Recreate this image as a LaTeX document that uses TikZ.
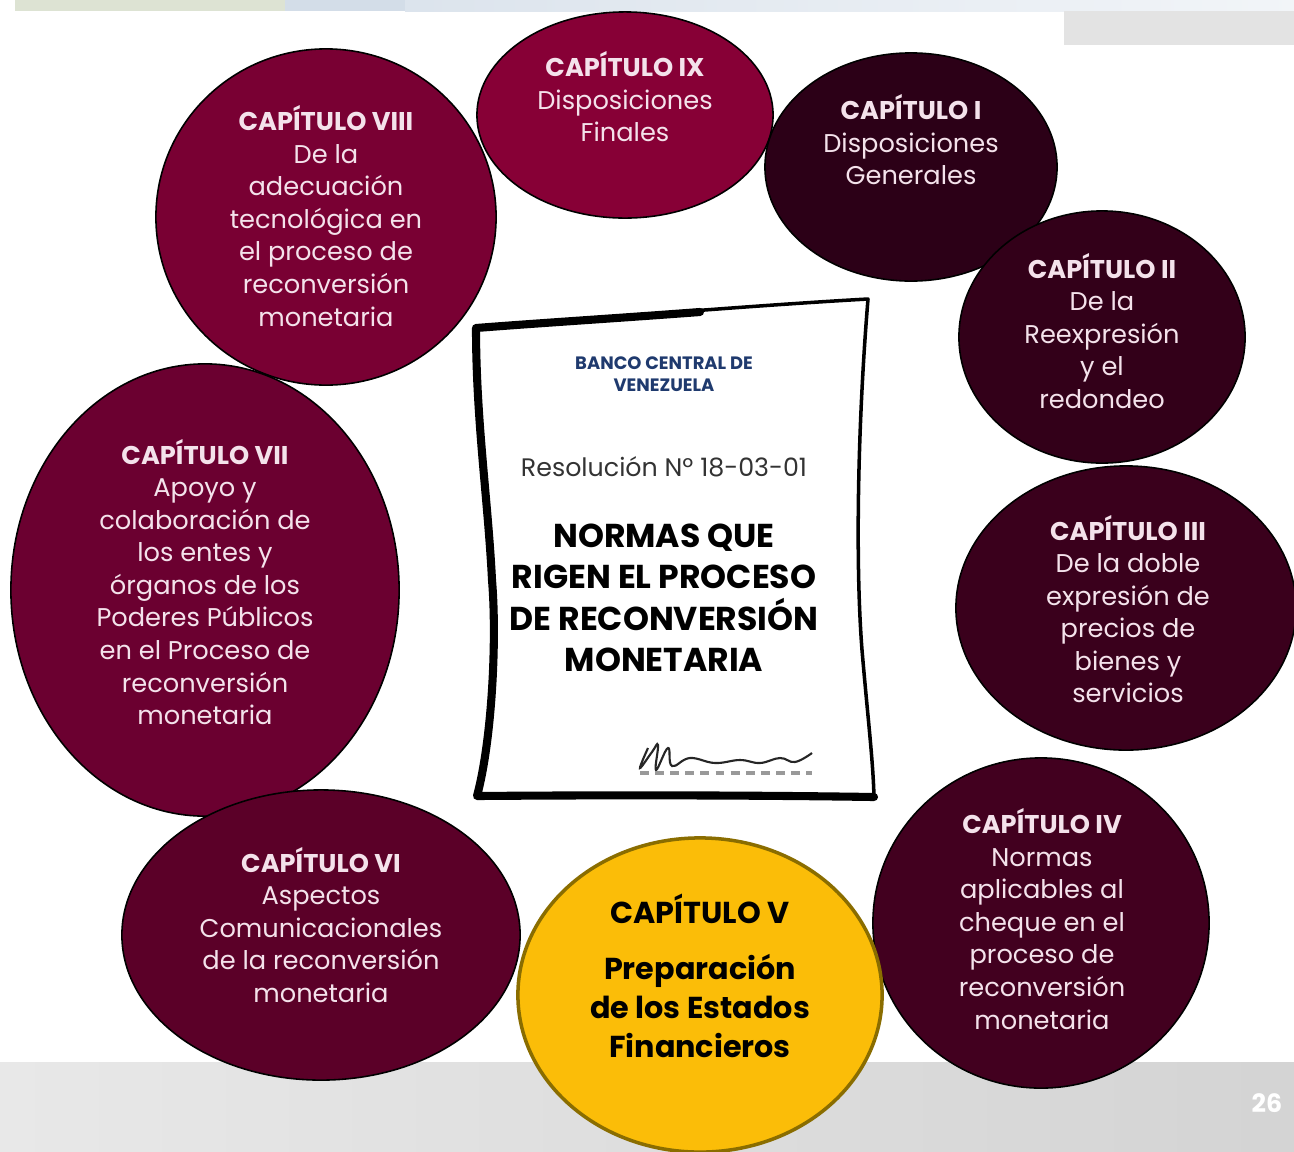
\documentclass[tikz,border=0pt]{standalone}
\usepackage{fontspec}
\setmainfont{Poppins}
\usetikzlibrary{shapes.geometric}

\definecolor{vinoVII}{HTML}{6B0030}
\definecolor{vinoVIII}{HTML}{790033}
\definecolor{vinoIX}{HTML}{870036}
\definecolor{vinoI}{HTML}{2C0017}
\definecolor{vinoII}{HTML}{330019}
\definecolor{vinoIII}{HTML}{3A001C}
\definecolor{vinoIV}{HTML}{42001F}
\definecolor{vinoVI}{HTML}{5B0028}
\definecolor{oro}{HTML}{FBBD08}
\definecolor{orobase}{HTML}{8A6D00}
\definecolor{rosado}{HTML}{F4E2EB}
\definecolor{azulbcv}{HTML}{1F3A6E}
\definecolor{franjaverde}{HTML}{DDE3D3}
\definecolor{franjaazul}{HTML}{D3DDE8}

\tikzset{
  capitulo/.style={ellipse, draw=black, line width=0.45pt, inner sep=0pt, outer sep=0pt},
  textocap/.style={align=center, text=rosado, inner sep=0pt, font=\fontsize{7.3}{9.25}\selectfont},
}

\begin{document}
\begin{tikzpicture}[x=0.01cm, y=-0.01cm]
\useasboundingbox (0,0) rectangle (1294,1151);

\fill [left color=black!9, right color=black!17] (0,1062) rectangle (1294,1151);
\fill [franjaverde] (15,0) rectangle (285,11);
\fill [franjaazul] (285,0) rectangle (405,11);
\fill [left color=franjaazul!80, right color=franjaazul!30] (405,0) rectangle (1294,11);
\fill [black!11] (1064,11) rectangle (1294,45);

\coordinate (C7) at (205,590);
\coordinate (C8) at (326,217);
\coordinate (C9) at (625,115);
\coordinate (C1) at (911,167);
\coordinate (C2) at (1102,337);
\coordinate (C3) at (1126,608);
\coordinate (C4) at (1041,923);
\coordinate (C6) at (321,935);
\coordinate (C5) at (700,995);

\node [capitulo, fill=vinoVII, minimum width=3.88cm, minimum height=4.52cm] (cap7) at (C7) {};
\node [capitulo, fill=vinoVIII, minimum width=3.4cm, minimum height=3.36cm] (cap8) at (C8) {};
\node [capitulo, fill=vinoIX, minimum width=2.96cm, minimum height=2.06cm] (cap9) at (C9) {};
\node [capitulo, fill=vinoI, minimum width=2.92cm, minimum height=2.28cm] (cap1) at (C1) {};
\node [capitulo, fill=vinoII, minimum width=2.86cm, minimum height=2.52cm] (cap2) at (C2) {};
\node [capitulo, fill=vinoIII, minimum width=3.4cm, minimum height=2.84cm] (cap3) at (C3) {};
\node [capitulo, fill=vinoIV, minimum width=3.36cm, minimum height=3.3cm] (cap4) at (C4) {};
\node [capitulo, fill=vinoVI, minimum width=3.98cm, minimum height=2.9cm] (cap6) at (C6) {};
\node [capitulo, fill=oro, draw=orobase, line width=1pt, minimum width=3.64cm, minimum height=3.14cm] (cap5) at (C5) {};

\node [textocap] (txt7) at (205,582) {\textbf{CAPÍTULO VII}\\Apoyo y\\colaboración de\\los entes y\\órganos de los\\Poderes Públicos\\en el Proceso de\\reconversión\\monetaria};
\node [textocap] (txt8) at (326,216) {\textbf{CAPÍTULO VIII}\\De la\\adecuación\\tecnológica en\\el proceso de\\reconversión\\monetaria};
\node [textocap] (txt9) at (625,97) {\textbf{CAPÍTULO IX}\\Disposiciones\\Finales};
\node [textocap] (txt1) at (911,140) {\textbf{CAPÍTULO I}\\Disposiciones\\Generales};
\node [textocap] (txt2) at (1102,331) {\textbf{CAPÍTULO II}\\De la\\Reexpresión\\y el\\redondeo};
\node [textocap] (txt3) at (1128,609) {\textbf{CAPÍTULO III}\\De la doble\\expresión de\\precios de\\bienes y\\servicios};
\node [textocap] (txt4) at (1042,919) {\textbf{CAPÍTULO IV}\\Normas\\aplicables al\\cheque en el\\proceso de\\reconversión\\monetaria};
\node [textocap] (txt6) at (321,925) {\textbf{CAPÍTULO VI}\\Aspectos\\Comunicacionales\\de la reconversión\\monetaria};
\node [align=center, inner sep=0pt, font=\bfseries\fontsize{8.6}{11.1}\selectfont] (txt5) at (700,976) {CAPÍTULO V\\[5pt]Preparación\\de los Estados\\Financieros};

\coordinate (P1) at (476,328);
\coordinate (P2) at (868,299);
\coordinate (P3) at (874,797);
\coordinate (P4) at (477,796);

\draw [fill=white, line width=1pt, line join=round]
(P1) .. controls (600,318) and (760,305) .. (P2)
.. controls (858,420) and (855,560) .. (862,650)
.. controls (868,720) and (873,760) .. (P3)
.. controls (740,795) and (600,795) .. (P4)
.. controls (492,740) and (497,640) .. (492,580)
.. controls (488,500) and (476,420) .. (P1) -- cycle;
\draw [line width=2.3pt, line join=round, line cap=round]
(700,312) .. controls (620,318) and (540,323) .. (P1)
.. controls (476,420) and (488,500) .. (492,580)
.. controls (497,640) and (492,740) .. (P4)
.. controls (600,795) and (740,795) .. (P3);

\node [align=center, text=azulbcv, font=\bfseries\fontsize{5.1}{6.3}\selectfont] (banco) at (664,374) {BANCO CENTRAL DE\\VENEZUELA};
\node [text=black!80, font=\fontsize{7.2}{9}\selectfont] (resol) at (664,467) {Resolución Nº 18-03-01};
\node [align=center, font=\bfseries\fontsize{9.4}{11.8}\selectfont] (titulo) at (664,598) {NORMAS QUE\\RIGEN EL PROCESO\\DE RECONVERSIÓN\\MONETARIA};

\draw [line width=0.6pt, black!85, smooth, tension=0.7] plot coordinates {(648,748) (640,768) (652,752) (658,745) (656,770) (668,748) (672,766) (690,758) (715,763) (740,760) (760,763) (780,758) (795,762) (812,753)};
\draw [black!40, line width=1pt, dash pattern=on 2.5pt off 1.8pt] (640,773) -- (812,773);

\node [text=white, font=\rmfamily\bfseries\fontsize{7.2}{8}\selectfont] (pagina) at (1267,1103) {26};

\end{tikzpicture}
\end{document}
